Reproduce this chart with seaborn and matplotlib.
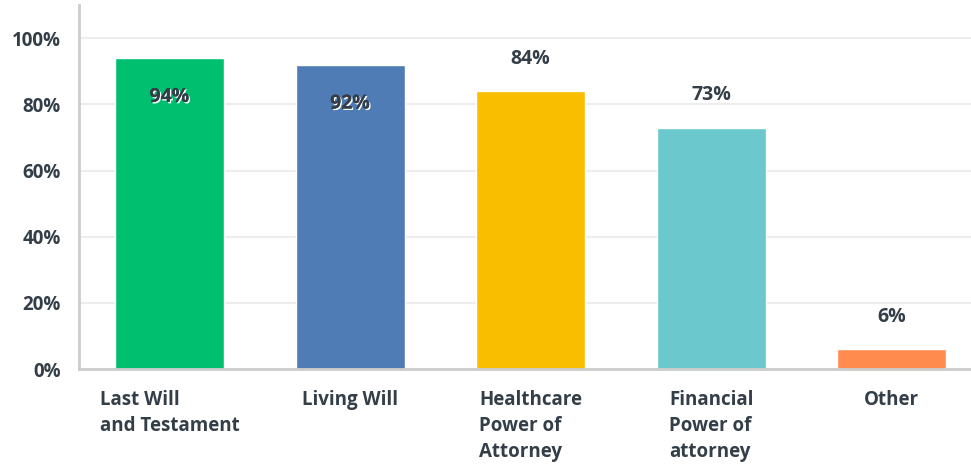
import matplotlib
matplotlib.use('Agg')
import matplotlib.pyplot as plt
import matplotlib.patheffects as pe
import seaborn as sns
import pandas as pd

categories = ['Last Will\nand Testament', 'Living Will', 'Healthcare\nPower of\nAttorney',
              'Financial\nPower of\nattorney', 'Other']
values = [94, 92, 84, 73, 6]
colors = ['#00BF6F', '#507CB6', '#F9BE00', '#6BC8CD', '#FF8B4F']
yticks = [0, 20, 40, 60, 80, 100]

text_color = '#333E48'

sns.set_style('white')
plt.rcParams['font.family'] = ['Open Sans', 'DejaVu Sans']

df = pd.DataFrame({'category': categories, 'value': values})

fig = plt.figure(figsize=(9.71, 4.66), dpi=100)
# the plot area runs a little past the right edge of the image
ax = fig.add_axes([0.0815, 0.208, 0.930, 0.781])
sns.barplot(data=df, x='category', y='value', hue='category', palette=colors,
            width=0.604, legend=False, saturation=1, ax=ax)

ax.set_xlim(-0.5, len(categories) - 0.5)
ax.set_ylim(0, 110)
ax.set_yticks(yticks)
ax.set_yticklabels([f'{t}%' for t in yticks])
ax.yaxis.grid(True, color='#EDEDED', linewidth=1.5)
ax.set_axisbelow(True)
ax.set_xlabel('')
ax.set_ylabel('')

for side in ['top', 'right']:
    ax.spines[side].set_visible(False)
for side in ['left', 'bottom']:
    ax.spines[side].set_color('#CCCCCC')
    ax.spines[side].set_linewidth(2)

ax.tick_params(axis='y', length=0, pad=13, labelsize=13.5, labelcolor=text_color)
ax.tick_params(axis='x', length=0, pad=15, labelsize=13.5, labelcolor=text_color)
for lbl in ax.get_yticklabels():
    lbl.set_fontweight('bold')
for lbl in ax.get_xticklabels():
    lbl.set_fontweight('bold')
    lbl.set_verticalalignment('top')
    lbl.set_multialignment('left')
    lbl.set_linespacing(1.4)

for i, v in enumerate(values):
    if v + 11.5 > 100:
        ax.annotate(f'{v}%', (i, v), xytext=(0, -28), textcoords='offset points',
                    ha='center', va='center', fontsize=14, fontweight='bold', color=text_color,
                    path_effects=[pe.withSimplePatchShadow(offset=(1, -1), shadow_rgbFace='white', alpha=1),
                                  pe.Normal()])
    else:
        ax.annotate(f'{v}%', (i, v), xytext=(0, 23.5), textcoords='offset points',
                    ha='center', va='center', fontsize=14, fontweight='bold', color=text_color)

fig.savefig('out.png', dpi=100)
plt.close(fig)
